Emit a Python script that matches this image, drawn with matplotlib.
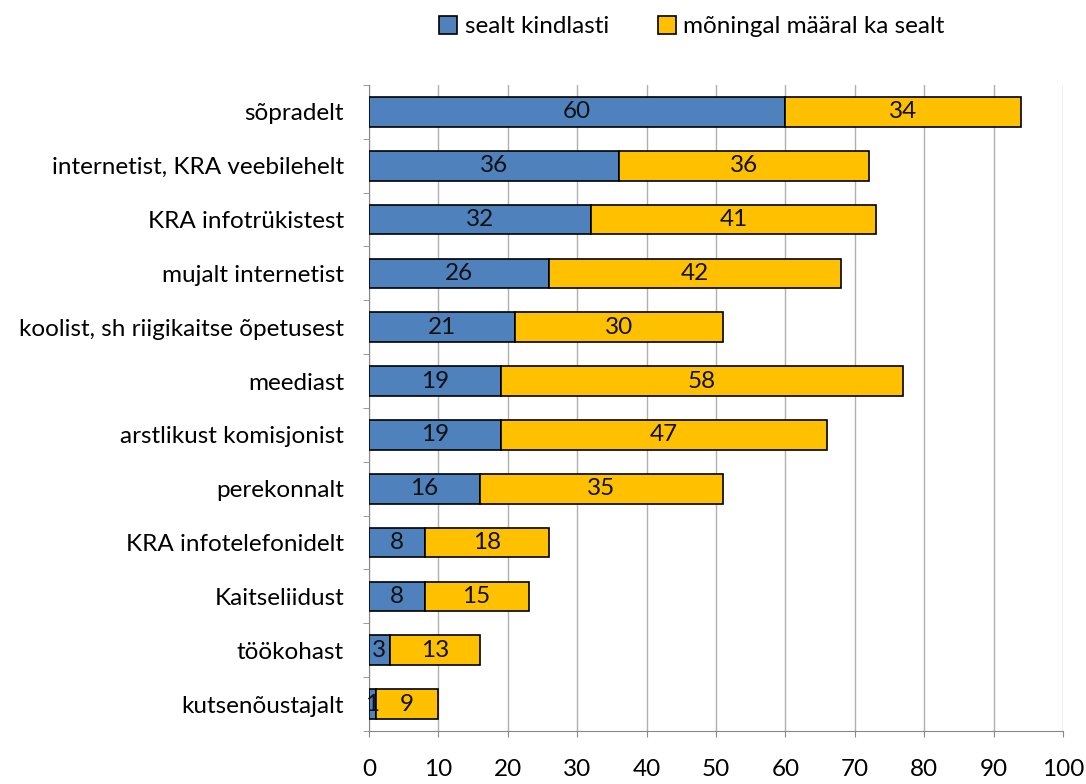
import numpy as np
import matplotlib.pyplot as plt

categories = ['sõpradelt', 'internetist, KRA veebilehelt', 'KRA infotrükistest',
              'mujalt internetist', 'koolist, sh riigikaitse õpetusest', 'meediast',
              'arstlikust komisjonist', 'perekonnalt', 'KRA infotelefonidelt',
              'Kaitseliidust', 'töökohast', 'kutsenõustajalt']
sure = [60, 36, 32, 26, 21, 19, 19, 16, 8, 8, 3, 1]
partly = [34, 36, 41, 42, 30, 58, 47, 35, 18, 15, 13, 9]
series_names = ['sealt kindlasti', 'mõningal määral ka sealt']
xticks = list(range(0, 101, 10))

plt.rcParams['font.family'] = ['Lato', 'DejaVu Sans']
fs = 17.5

fig = plt.figure(figsize=(10.86, 7.84), dpi=100)
ax = fig.add_axes([0.3398, 0.0676, 0.639, 0.824])

y = np.arange(len(categories))
b1 = ax.barh(y, sure, height=0.55, color='#4F81BD', edgecolor='black', linewidth=1.2,
             label=series_names[0], zorder=3)
b2 = ax.barh(y, partly, left=sure, height=0.55, color='#FFC000', edgecolor='black',
             linewidth=1.2, label=series_names[1], zorder=3)
ax.bar_label(b1, label_type='center', fontsize=fs, color='#111111')
ax.bar_label(b2, label_type='center', fontsize=fs, color='#111111')

ax.set_ylim(len(categories) - 0.5, -0.5)
ax.set_xlim(0, 100)
ax.set_xticks(xticks)
ax.tick_params(axis='x', labelsize=fs, length=4, pad=16, color='#888888')
ax.set_yticks(y)
ax.set_yticklabels(categories, fontsize=fs)
ax.tick_params(axis='y', length=0, pad=18)
ax.set_yticks(np.arange(-0.5, len(categories), 1), minor=True)
ax.tick_params(axis='y', which='minor', length=4, color='#888888')

ax.grid(axis='x', color='#B0B0B0', linewidth=1, zorder=0)
for side in ['top', 'right']:
    ax.spines[side].set_visible(False)
ax.spines['left'].set_color('#888888')
ax.spines['bottom'].set_color('#888888')

fig.legend(handles=[b1, b2], loc='center', bbox_to_anchor=(0.637, 0.966), ncol=2,
           frameon=False, fontsize=fs, handlelength=0.75, handleheight=0.75,
           handletextpad=0.3, columnspacing=2.0)

fig.savefig('out.png', dpi=100)
